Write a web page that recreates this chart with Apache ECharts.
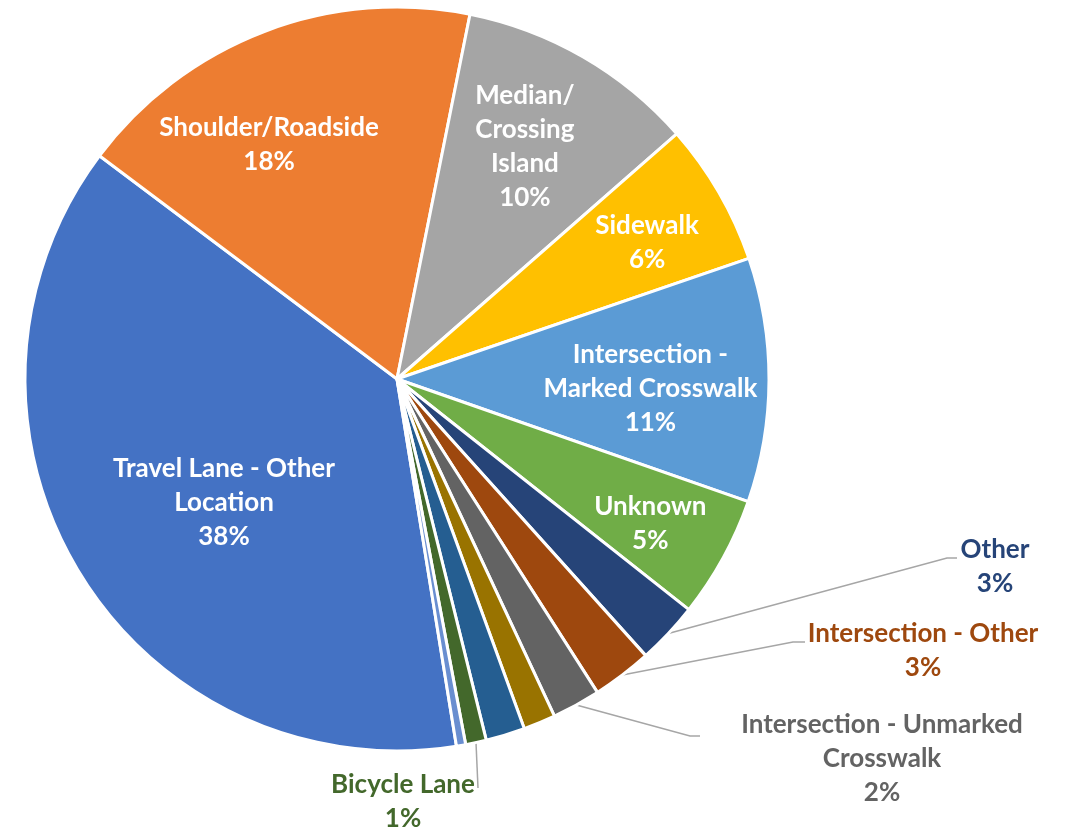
<!DOCTYPE html>
<html>
<head>
<meta charset="utf-8">
<title>Pedestrian crashes by location</title>
<script src="https://cdn.jsdelivr.net/npm/echarts@6/dist/echarts.min.js"></script>
<style>
    html, body { margin: 0; padding: 0; background: #fff; }
    #main { width: 1066px; height: 831px; }
</style>
</head>
<body>
<div id="main"></div>
<script>
// slices in drawing order (clockwise, first one starts just right of 6 o'clock)
var categories = ['Travel Lane - Other Location', 'Shoulder/Roadside', 'Median/Crossing Island', 'Sidewalk',
    'Intersection - Marked Crosswalk', 'Unknown', 'Other', 'Intersection - Other',
    'Intersection - Unmarked Crosswalk', 'Driveway Access', 'Shared-Use Path', 'Bicycle Lane', 'Parking Lane'];
var shares = [37.8, 17.9, 10.4, 6.2, 10.6, 5.3, 2.7, 2.6, 2.1, 1.4, 1.7, 0.9, 0.4];
// how the label text breaks ('' = slice has no label)
var labelLines = ['Travel Lane - Other\nLocation', 'Shoulder/Roadside', 'Median/\nCrossing\nIsland', 'Sidewalk',
    'Intersection -\nMarked Crosswalk', 'Unknown', 'Other', 'Intersection - Other',
    'Intersection - Unmarked\nCrosswalk', '', '', 'Bicycle Lane', ''];

var colors = ['#4472C4', '#ED7D31', '#A5A5A5', '#FFC000', '#5B9BD5', '#70AD47', '#264478',
    '#9E480E', '#636363', '#997300', '#255E91', '#43682B', '#698ED0'];

var total = shares.reduce(function (a, b) { return a + b; }, 0);
var CX = 397, CY = 379, R = 372;
var START = -80.8;
var font = { fontFamily: 'Lato', fontWeight: 'bold', fontSize: 26, lineHeight: 34 };

function labelText(params) {
    return labelLines[params.dataIndex] + '\n' + Math.round(params.value / total * 100) + '%';
}

// small shifts so the inside labels sit where Excel's best-fit put them
var nudge = { 0: [11, 12], 1: [-34, 12], 2: [-4, -4], 3: [-2, 10], 4: [-10, 9], 5: [-2, 4] };

// outside labels with leader lines (label centre, end of leader line, length of the flat bit)
var callouts = {
    6: { x: 995, y: 567, end: [957, 558], tail: 10 },
    7: { x: 923, y: 651, end: [805, 642], tail: 12 },
    8: { x: 882, y: 759, end: [700, 736], tail: 10 },
    11: { x: 403, y: 802, end: [478, 788], tail: 0 }
};

// inside labels sit on invisible rings so they land further out than r/2
function labelRing(inner, which) {
    return {
        type: 'pie',
        silent: true,
        startAngle: START,
        center: [CX, CY],
        radius: [R * inner, R],
        avoidLabelOverlap: false,
        itemStyle: { color: 'rgba(0,0,0,0)', borderWidth: 0 },
        label: Object.assign({ show: true, position: 'inside', color: '#fff', formatter: labelText }, font),
        labelLine: { show: false },
        emphasis: { disabled: true },
        data: shares.map(function (v, i) {
            return {
                name: categories[i],
                value: v,
                label: { show: which.indexOf(i) >= 0, offset: nudge[i] || [0, 0] }
            };
        })
    };
}

var myChart = echarts.init(document.getElementById('main'));

myChart.setOption({
    backgroundColor: '#fff',
    animation: false,
    series: [
        {
            type: 'pie',
            startAngle: START,
            center: [CX, CY],
            radius: R,
            avoidLabelOverlap: false,
            itemStyle: { borderColor: '#fff', borderWidth: 3 },
            emphasis: { scale: false },
            data: shares.map(function (v, i) {
                var c = callouts[i];
                return {
                    name: categories[i],
                    value: v,
                    itemStyle: { color: colors[i] },
                    label: c ? Object.assign({ show: true, position: 'outside', color: colors[i], formatter: labelText }, font)
                             : { show: false },
                    labelLine: { show: !!c, lineStyle: { color: '#A6A6A6', width: 1.5 } }
                };
            }),
            labelLayout: function (params) {
                var c = callouts[params.dataIndex];
                if (!c || !params.labelLinePoints) return {};
                return {
                    x: c.x,
                    y: c.y,
                    align: 'center',
                    verticalAlign: 'middle',
                    labelLinePoints: [params.labelLinePoints[0], [c.end[0] - c.tail, c.end[1]], c.end]
                };
            }
        },
        labelRing(0.40, [1, 2, 4]),
        labelRing(0.55, [3, 5]),
        labelRing(0.14, [0])
    ]
});
</script>
</body>
</html>
